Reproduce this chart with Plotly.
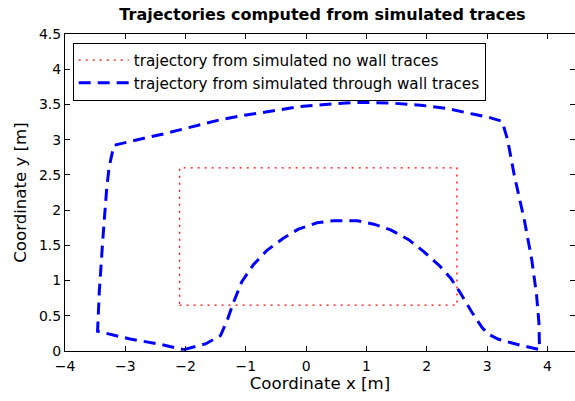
import plotly.graph_objects as go

# Red rectangle: trajectory from simulated no wall traces
nowall_x = [-2.1, 2.5, 2.5, -2.1, -2.1]
nowall_y = [0.65, 0.65, 2.6, 2.6, 0.65]

# Blue closed path: trajectory from simulated through wall traces
wall_x = [-2.03, -1.67, -1.42, -1.30, -1.21, -1.07, -0.88, -0.65, -0.38, -0.13,
          0.18, 0.45, 0.85, 1.12, 1.40, 1.70, 1.95, 2.20, 2.40, 2.56,
          2.74, 2.92, 3.02, 3.18, 3.49, 3.87,
          3.86, 3.82, 3.74, 3.62, 3.45, 3.34, 3.25,
          3.06, 2.78, 2.35, 1.90, 1.40, 0.90, 0.45, -0.10, -0.65, -1.14,
          -1.44, -1.76, -2.06, -2.37, -2.69, -3.19,
          -3.27, -3.31, -3.37, -3.43, -3.46,
          -2.92, -2.45, -2.03]
wall_y = [0.02, 0.10, 0.22, 0.46, 0.68, 0.98, 1.22, 1.43, 1.60, 1.73,
          1.82, 1.85, 1.85, 1.80, 1.72, 1.58, 1.41, 1.22, 1.03, 0.82,
          0.56, 0.33, 0.24, 0.17, 0.095, 0.02,
          0.40, 0.80, 1.30, 1.85, 2.50, 3.00, 3.26,
          3.31, 3.36, 3.44, 3.49, 3.52, 3.53, 3.51, 3.47, 3.40, 3.33,
          3.28, 3.21, 3.14, 3.08, 3.02, 2.92,
          2.60, 2.29, 1.62, 0.86, 0.28,
          0.17, 0.10, 0.02]

x_ticks = [-4, -3, -2, -1, 0, 1, 2, 3, 4]
x_ticklabels = ["\u22124", "\u22123", "\u22122", "\u22121", "0", "1", "2", "3", "4"]
y_ticks = [0, 0.5, 1, 1.5, 2, 2.5, 3, 3.5, 4, 4.5]
y_ticklabels = ["0", "0.5", "1", "1.5", "2", "2.5", "3", "3.5", "4", "4.5"]

FONT = "DejaVu Sans, Liberation Sans, sans-serif"

fig = go.Figure()
fig.add_trace(go.Scatter(
    x=nowall_x, y=nowall_y, mode="lines",
    name="trajectory from simulated no wall traces",
    line=dict(color="#ff0000", width=1.3, dash="2px,5px"),
))
fig.add_trace(go.Scatter(
    x=wall_x, y=wall_y, mode="lines",
    name="trajectory from simulated through wall traces",
    line=dict(color="#0000ff", width=3, dash="12px,7px"),
))
fig.add_trace(go.Scatter(x=[], y=[], yaxis="y2", showlegend=False, hoverinfo="skip"))

fig.update_layout(
    width=575, height=401,
    margin=dict(l=65, r=0, t=34, b=50),
    paper_bgcolor="white", plot_bgcolor="white",
    font=dict(family=FONT, color="black", size=14),
    title=dict(
        text="<b>Trajectories computed from simulated traces</b>",
        x=(322.5 / 575), xanchor="center",
        y=1 - 14.5 / 401, yanchor="middle",
        font=dict(family=FONT, size=16, color="black"),
    ),
    xaxis=dict(
        range=[-4, 4.458], tickvals=x_ticks, ticktext=x_ticklabels,
        ticks="inside", ticklen=5, tickwidth=1, tickcolor="black",
        showline=True, linecolor="black", linewidth=1, mirror="ticks",
        showgrid=False, zeroline=False,
        tickfont=dict(size=14), ticklabelstandoff=2,
        title=dict(text="Coordinate x [m]", font=dict(size=16.6), standoff=2),
    ),
    yaxis=dict(
        range=[0, 4.5], tickvals=y_ticks, ticktext=y_ticklabels,
        ticks="inside", ticklen=5, tickwidth=1, tickcolor="black",
        showline=True, linecolor="black", linewidth=1, mirror=False,
        showgrid=False, zeroline=False,
        tickfont=dict(size=14),
        title=dict(text="Coordinate y [m]", font=dict(size=16.6), standoff=8),
    ),
    yaxis2=dict(
        overlaying="y", side="right", matches="y", range=[0, 4.5],
        tickvals=y_ticks, showticklabels=False,
        ticks="inside", ticklen=5, tickwidth=1, tickcolor="black",
        showline=False, showgrid=False, zeroline=False,
    ),
    legend=dict(
        x=(72.7 - 65) / 510, y=(351 - 42.7) / 317, xanchor="left", yanchor="top",
        bgcolor="white", bordercolor="black", borderwidth=1,
        font=dict(family=FONT, size=15.2, color="black"),
        itemwidth=50, tracegroupgap=0,
    ),
    showlegend=True,
)

fig.write_html("out.html")
